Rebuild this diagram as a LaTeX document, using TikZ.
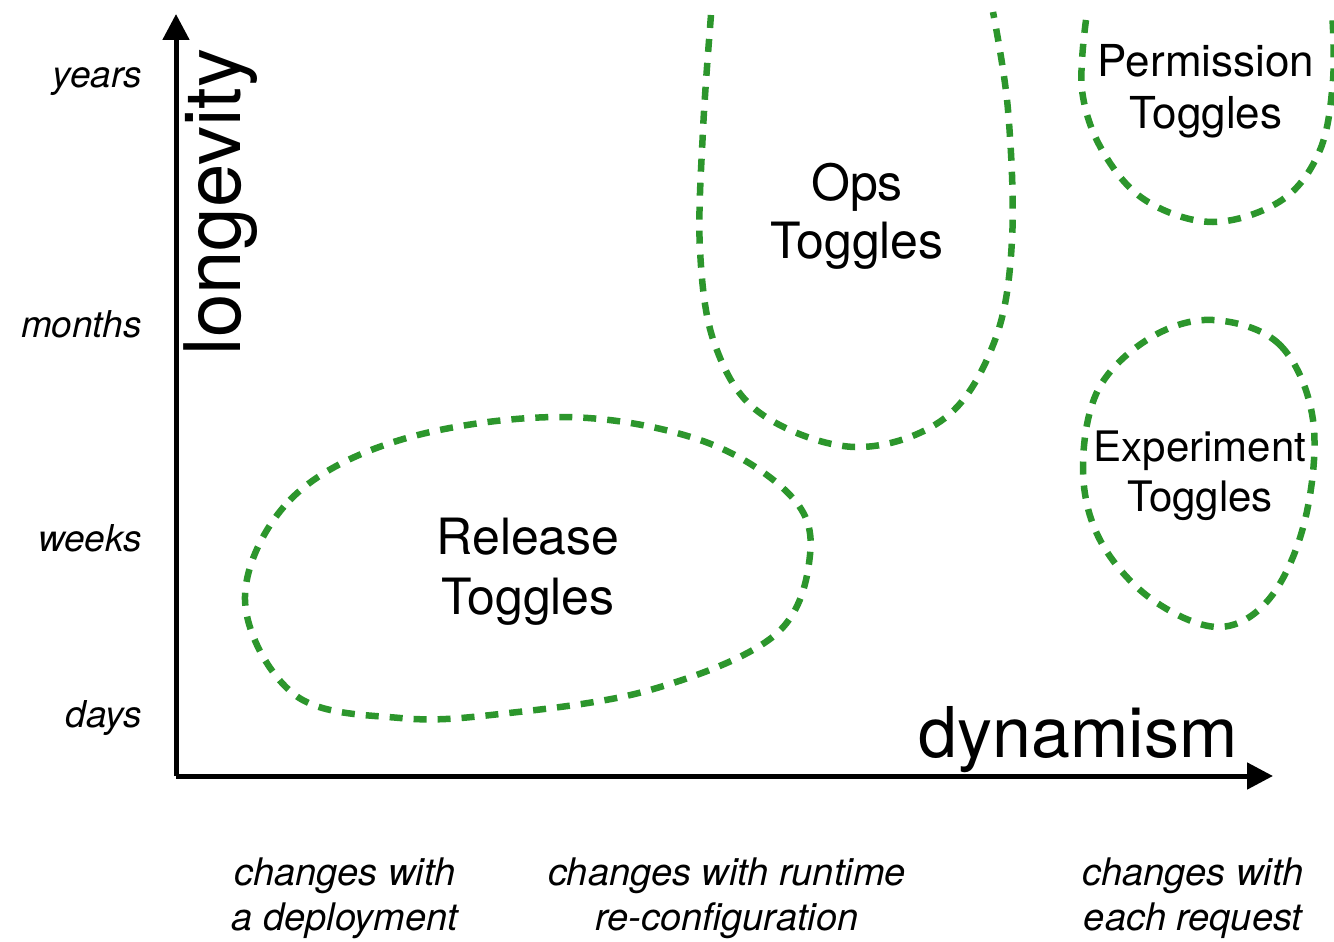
\documentclass[tikz,border=0pt]{standalone}
\usepackage{fontspec}
\setmainfont{TeX Gyre Heros}
\usetikzlibrary{arrows.meta}
\definecolor{tgreen}{RGB}{44,150,44}
\tikzset{
  axis/.style={line width=5pt,-{Triangle[length=26pt,width=26pt]}},
  zone/.style={tgreen,line width=6.5pt,dash pattern=on 13pt off 11pt},
  tick/.style={anchor=base east,inner sep=0pt,font=\fontsize{37}{40}\selectfont\itshape},
  cat/.style={align=center,inner sep=0pt,font=\fontsize{38}{45}\selectfont\itshape},
  zlabel/.style={align=center,inner sep=0pt},
}
\begin{document}
\begin{tikzpicture}[x=1pt,y=-1pt]
\useasboundingbox (0,0) rectangle (1334,942);
\coordinate (o) at (176,776);
\coordinate (ytop) at (176,14);
\coordinate (xend) at (1273,776);
\draw[axis] (o) -- (ytop);
\draw[axis] (o) -- (xend);

\node[tick] (years) at (142,88) {years};
\node[tick] (months) at (142,337) {months};
\node[tick] (weeks) at (142,551) {weeks};
\node[tick] (days) at (142,727) {days};

\node[rotate=90,inner sep=0pt,font=\fontsize{78}{80}\selectfont] (lon) at (221,202) {longevity};
\node[anchor=base east,inner sep=0pt,font=\fontsize{70}{72}\selectfont] (dyn) at (1238,757) {dynamism};

\node[cat] (c1) at (345,898) {changes with\\a deployment};
\node[cat] (c2) at (727,898) {changes with runtime\\re-configuration};
\node[cat] (c3) at (1193,898) {changes with\\each request};

% Release
\draw[zone] plot[smooth cycle,tension=0.6] coordinates {(245,600) (290,500) (400,440) (560,417) (700,440) (790,495) (810,555) (775,635) (650,690) (500,714) (400,718) (295,695)};
\node[zlabel,font=\fontsize{50}{60}\selectfont] (rel) at (528,572) {Release\\Toggles};

% Ops
\draw[zone] plot[smooth,tension=0.6] coordinates {(711,15) (703,130) (700,250) (715,345) (760,413) (855,447) (945,418) (995,340) (1012,240) (1008,110) (993,12)};
\node[zlabel,font=\fontsize{50}{58}\selectfont] (ops) at (857,216) {Ops\\Toggles};

% Permission
\draw[zone] plot[smooth,tension=0.6] coordinates {(1086,20) (1082,90) (1102,150) (1145,200) (1213,222) (1282,200) (1320,150) (1333,80) (1332,10)};
\node[zlabel,font=\fontsize{44}{52}\selectfont] (perm) at (1206,91) {Permission\\Toggles};

% Experiment
\draw[zone] plot[smooth cycle,tension=0.6] coordinates {(1213,320) (1280,345) (1313,420) (1305,520) (1270,598) (1218,627) (1150,598) (1100,540) (1083,470) (1098,390) (1150,338)};
\node[zlabel,font=\fontsize{42}{50}\selectfont] (exp) at (1200,476) {Experiment\\Toggles};
\end{tikzpicture}
\end{document}
